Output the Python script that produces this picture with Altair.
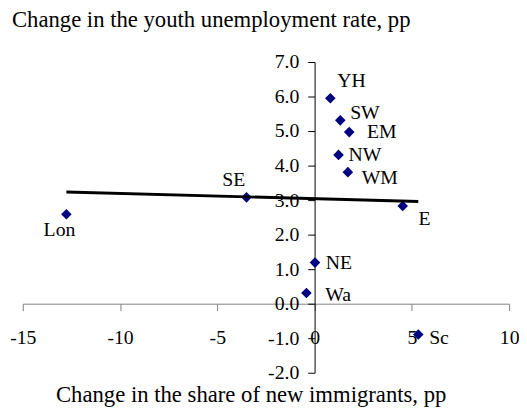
import altair as alt
import pandas as pd

regions = ["YH", "SW", "EM", "NW", "WM", "SE", "E", "Lon", "NE", "Wa", "Sc"]
immigrant_change = [0.81, 1.32, 1.78, 1.23, 1.71, -3.5, 4.53, -12.76, 0.02, -0.42, 5.33]
unemployment_change = [5.95, 5.31, 4.97, 4.31, 3.81, 3.08, 2.83, 2.59, 1.19, 0.31, -0.89]

x_domain = [-15, 10]
y_domain = [-2, 7]

df = pd.DataFrame({"region": regions, "x": immigrant_change, "y": unemployment_change})

FONT = "Liberation Serif"
W, H = 493, 315
HYPHEN = "replace(datum.label, '\u2212', '-')"

xscale = alt.Scale(domain=x_domain, nice=False, zero=False)
yscale = alt.Scale(domain=y_domain, nice=False, zero=False)

x_enc = alt.X(
    "x:Q",
    scale=xscale,
    axis=alt.Axis(
        tickCount=5,
        offset=-(2 / 9) * H,
        grid=False,
        domainColor="#808080",
        tickColor="#808080",
        tickSize=7,
        labelPadding=17,
        labelFont=FONT,
        labelFontSize=20,
        labelColor="black",
        labelFlush=False,
        labelOverlap=False,
        labelBound=False,
        labelExpr=HYPHEN,
        title="Change in the share of new immigrants, pp",
        titleFont=FONT,
        titleFontSize=23,
        titleFontWeight="normal",
        titleColor="black",
        titleX=231,
        titleY=99,
        titleBaseline="alphabetic",
    ),
)
y_enc = alt.Y(
    "y:Q",
    scale=yscale,
    axis=alt.Axis(
        tickCount=9,
        format=".1f",
        offset=-(15 / 25) * W,
        grid=False,
        domainColor="black",
        tickColor="black",
        tickSize=7,
        labelPadding=9,
        labelFont=FONT,
        labelFontSize=20,
        labelColor="black",
        labelOverlap=False,
        labelBound=False,
        labelFlush=False,
        labelExpr=HYPHEN,
        title=None,
    ),
)

base = alt.Chart(df).encode(x=x_enc, y=y_enc)

trend = (
    alt.Chart(df)
    .transform_regression("x", "y")
    .mark_line(color="black", strokeWidth=3)
    .encode(x=alt.X("x:Q", scale=xscale), y=alt.Y("y:Q", scale=yscale))
)

points = base.mark_point(shape="diamond", filled=True, size=115, color="#000080", opacity=1)

offsets = {
    "YH": ("left", 7, -17),
    "SW": ("left", 10, -7),
    "EM": ("left", 18, 0),
    "NW": ("left", 10, 0),
    "WM": ("left", 14, 6),
    "SE": ("center", -13, -18),
    "E": ("left", 16, 13),
    "Lon": ("center", -7, 16),
    "NE": ("left", 11, 0),
    "Wa": ("left", 19, 2),
    "Sc": ("left", 11, 4),
}

label_layers = []
for name, (align, dx, dy) in offsets.items():
    label_layers.append(
        alt.Chart(df)
        .transform_filter(alt.datum.region == name)
        .mark_text(font=FONT, fontSize=20, color="black", align=align, baseline="middle", dx=dx, dy=dy)
        .encode(x=alt.X("x:Q", scale=xscale), y=alt.Y("y:Q", scale=yscale), text="region:N")
    )

chart = (
    alt.layer(points, trend, *label_layers)
    .properties(
        width=W,
        height=H,
        padding={"left": 15, "top": 52, "right": 10, "bottom": 34},
        autosize=alt.AutoSizeParams(type="none"),
        title=alt.TitleParams(
            "Change in the youth unemployment rate, pp",
            anchor="start",
            font=FONT,
            fontSize=23,
            fontWeight="normal",
            color="black",
            dx=-11,
            offset=2,
            baseline="alphabetic",
            frame="group",
        ),
    )
    .configure_view(stroke=None)
    .configure_axis(labelOverlap=False)
)

chart.save("out.html", embed_options={"renderer": "svg", "actions": False})
